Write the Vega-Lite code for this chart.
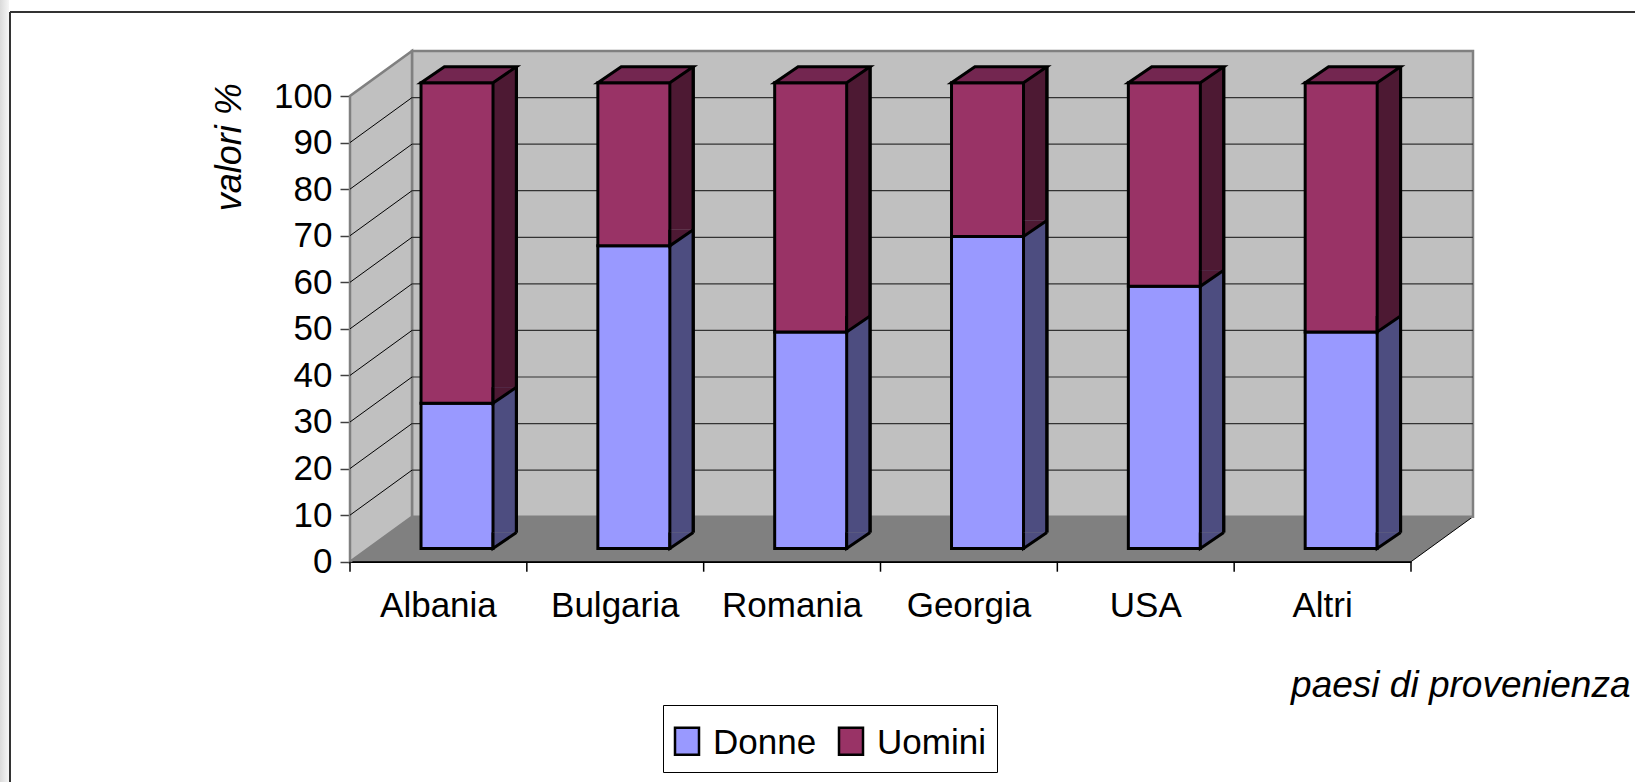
{
  "$schema": "https://vega.github.io/schema/vega-lite/v6.json",
  "width": 1061,
  "height": 465.7,
  "autosize": "none",
  "padding": {"left": 350, "top": 96, "right": 224, "bottom": 220.3},
  "background": "white",
  "config": {"view": {"stroke": null}, "font": "Liberation Sans"},
  "layer": [
    {
      "data": {"values": [{"level": 10}, {"level": 20}, {"level": 30}, {"level": 40}, {"level": 50}, {"level": 60}, {"level": 70}, {"level": 80}, {"level": 90}]},
      "layer": [
        {
          "transform": [{"filter": "datum.level === 10"}],
          "mark": {"type": "rect", "fill": {"gradient": "linear", "stops": [{"offset": 0, "color": "#dadada"}, {"offset": 1, "color": "#f6f6f6"}]}},
          "encoding": {
            "x": {"datum": -1.9793, "type": "quantitative", "scale": {"domain": [0, 6], "nice": false, "zero": false}, "axis": null},
            "x2": {"datum": -1.9284},
            "y": {"datum": -50, "type": "quantitative", "scale": {"domain": [0, 100], "nice": false, "zero": false}},
            "y2": {"datum": 125}
          }
        },
        {
          "transform": [{"filter": "datum.level === 10"}],
          "mark": {"type": "rule", "color": "#333333", "strokeWidth": 2},
          "encoding": {
            "x": {"datum": -1.9227, "type": "quantitative", "scale": {"domain": [0, 6], "nice": false, "zero": false}, "axis": null},
            "y": {"datum": 118.04, "type": "quantitative", "scale": {"domain": [0, 100], "nice": false, "zero": false}},
            "y2": {"datum": -50}
          }
        },
        {
          "transform": [{"filter": "datum.level === 10"}],
          "mark": {"type": "rule", "color": "#333333", "strokeWidth": 2},
          "encoding": {
            "x": {"datum": -1.9227, "type": "quantitative", "scale": {"domain": [0, 6], "nice": false, "zero": false}, "axis": null},
            "x2": {"datum": 8},
            "y": {"datum": 118.04, "type": "quantitative", "scale": {"domain": [0, 100], "nice": false, "zero": false}}
          }
        },
        {
          "transform": [{"filter": "datum.level === 10"}],
          "mark": {"type": "point", "shape": "M0,0 L1061,0 L1123,-45 L62,-45", "size": 4, "filled": true, "fill": "#808080", "stroke": "black", "strokeWidth": 1, "opacity": 1},
          "encoding": {
            "x": {"datum": 0, "type": "quantitative", "scale": {"domain": [0, 6], "nice": false, "zero": false}, "axis": null},
            "y": {"datum": 0, "type": "quantitative", "scale": {"domain": [0, 100], "nice": false, "zero": false}}
          }
        },
        {
          "transform": [{"filter": "datum.level === 10"}],
          "mark": {"type": "rect", "fill": "#C0C0C0", "stroke": "#808080", "strokeWidth": 2.5, "xOffset": 62, "x2Offset": 62, "yOffset": -45, "y2Offset": -45},
          "encoding": {
            "x": {"datum": 0, "type": "quantitative", "scale": {"domain": [0, 6], "nice": false, "zero": false}, "axis": null},
            "x2": {"datum": 6},
            "y": {"datum": 0, "type": "quantitative", "scale": {"domain": [0, 100], "nice": false, "zero": false}},
            "y2": {"datum": 100}
          }
        },
        {
          "transform": [{"filter": "datum.level === 10"}],
          "mark": {"type": "point", "shape": "M0,0 L62,-45 L62,-510.7 L0,-465.7 Z", "size": 4, "filled": true, "fill": "#C0C0C0", "stroke": "#808080", "strokeWidth": 2.5, "opacity": 1},
          "encoding": {
            "x": {"datum": 0, "type": "quantitative", "scale": {"domain": [0, 6], "nice": false, "zero": false}, "axis": null},
            "y": {"datum": 0, "type": "quantitative", "scale": {"domain": [0, 100], "nice": false, "zero": false}}
          }
        },
        {
          "mark": {"type": "rule", "color": "#333333", "strokeWidth": 1.2, "xOffset": 62, "x2Offset": 62, "yOffset": -45},
          "encoding": {
            "x": {"datum": 0, "type": "quantitative", "scale": {"domain": [0, 6], "nice": false, "zero": false}, "axis": null},
            "x2": {"datum": 6},
            "y": {"field": "level", "type": "quantitative", "scale": {"domain": [0, 100], "nice": false, "zero": false}}
          }
        },
        {
          "mark": {"type": "rule", "color": "black", "strokeWidth": 1, "x2Offset": 62, "y2Offset": -45},
          "encoding": {
            "x": {"datum": 0, "type": "quantitative", "scale": {"domain": [0, 6], "nice": false, "zero": false}, "axis": null},
            "x2": {"datum": 0},
            "y": {"field": "level", "type": "quantitative", "scale": {"domain": [0, 100], "nice": false, "zero": false}},
            "y2": {"field": "level"}
          }
        }
      ]
    },
    {
      "data": {"values": [
        {"country": "Albania", "sex": "Donne", "value": 31.2},
        {"country": "Albania", "sex": "Uomini", "value": 68.8},
        {"country": "Bulgaria", "sex": "Donne", "value": 65},
        {"country": "Bulgaria", "sex": "Uomini", "value": 35},
        {"country": "Romania", "sex": "Donne", "value": 46.5},
        {"country": "Romania", "sex": "Uomini", "value": 53.5},
        {"country": "Georgia", "sex": "Donne", "value": 67},
        {"country": "Georgia", "sex": "Uomini", "value": 33},
        {"country": "USA", "sex": "Donne", "value": 56.3},
        {"country": "USA", "sex": "Uomini", "value": 43.7},
        {"country": "Altri", "sex": "Donne", "value": 46.5},
        {"country": "Altri", "sex": "Uomini", "value": 53.5}
      ]},
      "transform": [{"stack": "value", "groupby": ["country"], "sort": [{"field": "sex", "order": "ascending"}], "as": ["v0", "v1"]}],
      "layer": [
        {
          "transform": [{"filter": "datum.sex === 'Donne'"}],
          "mark": {"type": "rule", "color": "black", "strokeWidth": 1.5},
          "encoding": {
            "x": {"field": "country", "type": "nominal", "bandPosition": 0, "sort": ["Albania", "Bulgaria", "Romania", "Georgia", "USA", "Altri"], "scale": {"paddingInner": 0, "paddingOuter": 0}},
            "y": {"datum": 0, "type": "quantitative", "scale": {"domain": [0, 100], "nice": false, "zero": false}},
            "y2": {"datum": -2.15}
          }
        },
        {
          "transform": [{"filter": "datum.sex === 'Donne' && datum.country === 'Altri'"}],
          "mark": {"type": "rule", "color": "black", "strokeWidth": 1.5},
          "encoding": {
            "x": {"field": "country", "type": "nominal", "bandPosition": 1, "sort": ["Albania", "Bulgaria", "Romania", "Georgia", "USA", "Altri"], "scale": {"paddingInner": 0, "paddingOuter": 0}},
            "y": {"datum": 0, "type": "quantitative", "scale": {"domain": [0, 100], "nice": false, "zero": false}},
            "y2": {"datum": -2.15}
          }
        },
        {
          "mark": {"type": "bar", "width": 72, "xOffset": 42, "x2Offset": 42, "yOffset": -29.2, "y2Offset": -29.2},
          "encoding": {
            "x": {"field": "country", "type": "nominal", "sort": ["Albania", "Bulgaria", "Romania", "Georgia", "USA", "Altri"], "scale": {"paddingInner": 0, "paddingOuter": 0}},
            "y": {"field": "v1", "type": "quantitative", "scale": {"domain": [0, 100], "nice": false, "zero": false}},
            "y2": {"field": "v0"},
            "fill": {"condition": {"test": "datum.sex === 'Donne'", "value": "#4D4D80"}, "value": "#4D1933"}
          }
        },
        {
          "mark": {"type": "rule", "color": "black", "strokeWidth": 3, "xOffset": 78, "yOffset": -29.2, "y2Offset": -29.2},
          "encoding": {
            "x": {"field": "country", "type": "nominal", "sort": ["Albania", "Bulgaria", "Romania", "Georgia", "USA", "Altri"], "scale": {"paddingInner": 0, "paddingOuter": 0}},
            "y": {"datum": 0, "type": "quantitative", "scale": {"domain": [0, 100], "nice": false, "zero": false}},
            "y2": {"datum": 100}
          }
        },
        {
          "mark": {"type": "bar", "width": 72, "xOffset": 18.6, "x2Offset": 18.6, "yOffset": -13.2, "y2Offset": -13.2, "stroke": "black", "strokeWidth": 3, "strokeJoin": "miter", "opacity": 1},
          "encoding": {
            "x": {"field": "country", "type": "nominal", "sort": ["Albania", "Bulgaria", "Romania", "Georgia", "USA", "Altri"], "scale": {"paddingInner": 0, "paddingOuter": 0},
              "axis": {"title": "paesi di provenienza", "ticks": false, "tickSize": 0, "domainColor": "black", "domainWidth": 1.5, "labelFontSize": 35, "labelColor": "black", "labelPadding": 27, "labelAngle": 0, "labelAlign": "center", "labelBaseline": "top", "labelFont": "Liberation Sans", "titleFont": "Liberation Sans", "titleFontSize": 37, "titleFontStyle": "italic", "titleFontWeight": "normal", "titleColor": "black", "titleX": 1280, "titleY": 135, "titleAlign": "right", "titleBaseline": "alphabetic", "grid": false}},
            "y": {"field": "v1", "type": "quantitative", "scale": {"domain": [0, 100], "nice": false, "zero": false},
              "axis": {"title": "valori %", "values": [0, 10, 20, 30, 40, 50, 60, 70, 80, 90, 100], "grid": false, "domain": false, "tickColor": "#404040", "tickWidth": 1.5, "tickSize": 10, "labelFontSize": 35, "labelColor": "black", "labelPadding": 8, "labelFont": "Liberation Sans", "titleFont": "Liberation Sans", "titleFontSize": 36, "titleFontStyle": "italic", "titleFontWeight": "normal", "titleColor": "black", "titleAngle": -90, "titleX": -121, "titleY": 50.7, "titleAlign": "center", "titleBaseline": "middle"}},
            "y2": {"field": "v0"},
            "color": {"field": "sex", "type": "nominal", "scale": {"domain": ["Donne", "Uomini"], "range": ["#9999FF", "#993366"]},
              "legend": {"orient": "none", "legendX": 313, "legendY": 609, "direction": "horizontal", "title": null, "fillColor": "white", "strokeColor": "black", "padding": 11, "labelFontSize": 35, "labelFont": "Liberation Sans", "labelColor": "black", "symbolType": "M-1.02,-0.6 L-0.06,-0.6 L-0.06,0.48 L-1.02,0.48 Z", "symbolSize": 2500, "symbolStrokeColor": "black", "symbolStrokeWidth": 2.5, "symbolOpacity": 1, "labelOffset": -14, "columnPadding": 17}}
          }
        },
        {
          "mark": {"type": "point", "shape": "M59.4,-16 L36,0 L36,-16", "size": 4, "filled": true, "opacity": 1, "stroke": "black", "strokeWidth": 3, "xOffset": 18.6, "yOffset": -13.2},
          "encoding": {
            "x": {"field": "country", "type": "nominal", "sort": ["Albania", "Bulgaria", "Romania", "Georgia", "USA", "Altri"], "scale": {"paddingInner": 0, "paddingOuter": 0}},
            "y": {"field": "v0", "type": "quantitative", "scale": {"domain": [0, 100], "nice": false, "zero": false}},
            "fill": {"condition": {"test": "datum.sex === 'Donne'", "value": "#4D4D80"}, "value": "#4D1933"}
          }
        },
        {
          "transform": [{"filter": "datum.sex === 'Uomini'"}],
          "mark": {"type": "point", "shape": "M-36,0 L-12.6,-16 L59.4,-16 L36,0 Z", "size": 4, "filled": true, "fill": "#732650", "opacity": 1, "stroke": "black", "strokeWidth": 3, "strokeJoin": "miter", "xOffset": 18.6, "yOffset": -13.2},
          "encoding": {
            "x": {"field": "country", "type": "nominal", "sort": ["Albania", "Bulgaria", "Romania", "Georgia", "USA", "Altri"], "scale": {"paddingInner": 0, "paddingOuter": 0}},
            "y": {"field": "v1", "type": "quantitative", "scale": {"domain": [0, 100], "nice": false, "zero": false}}
          }
        }
      ]
    }
  ],
  "resolve": {"scale": {"x": "independent"}}
}
